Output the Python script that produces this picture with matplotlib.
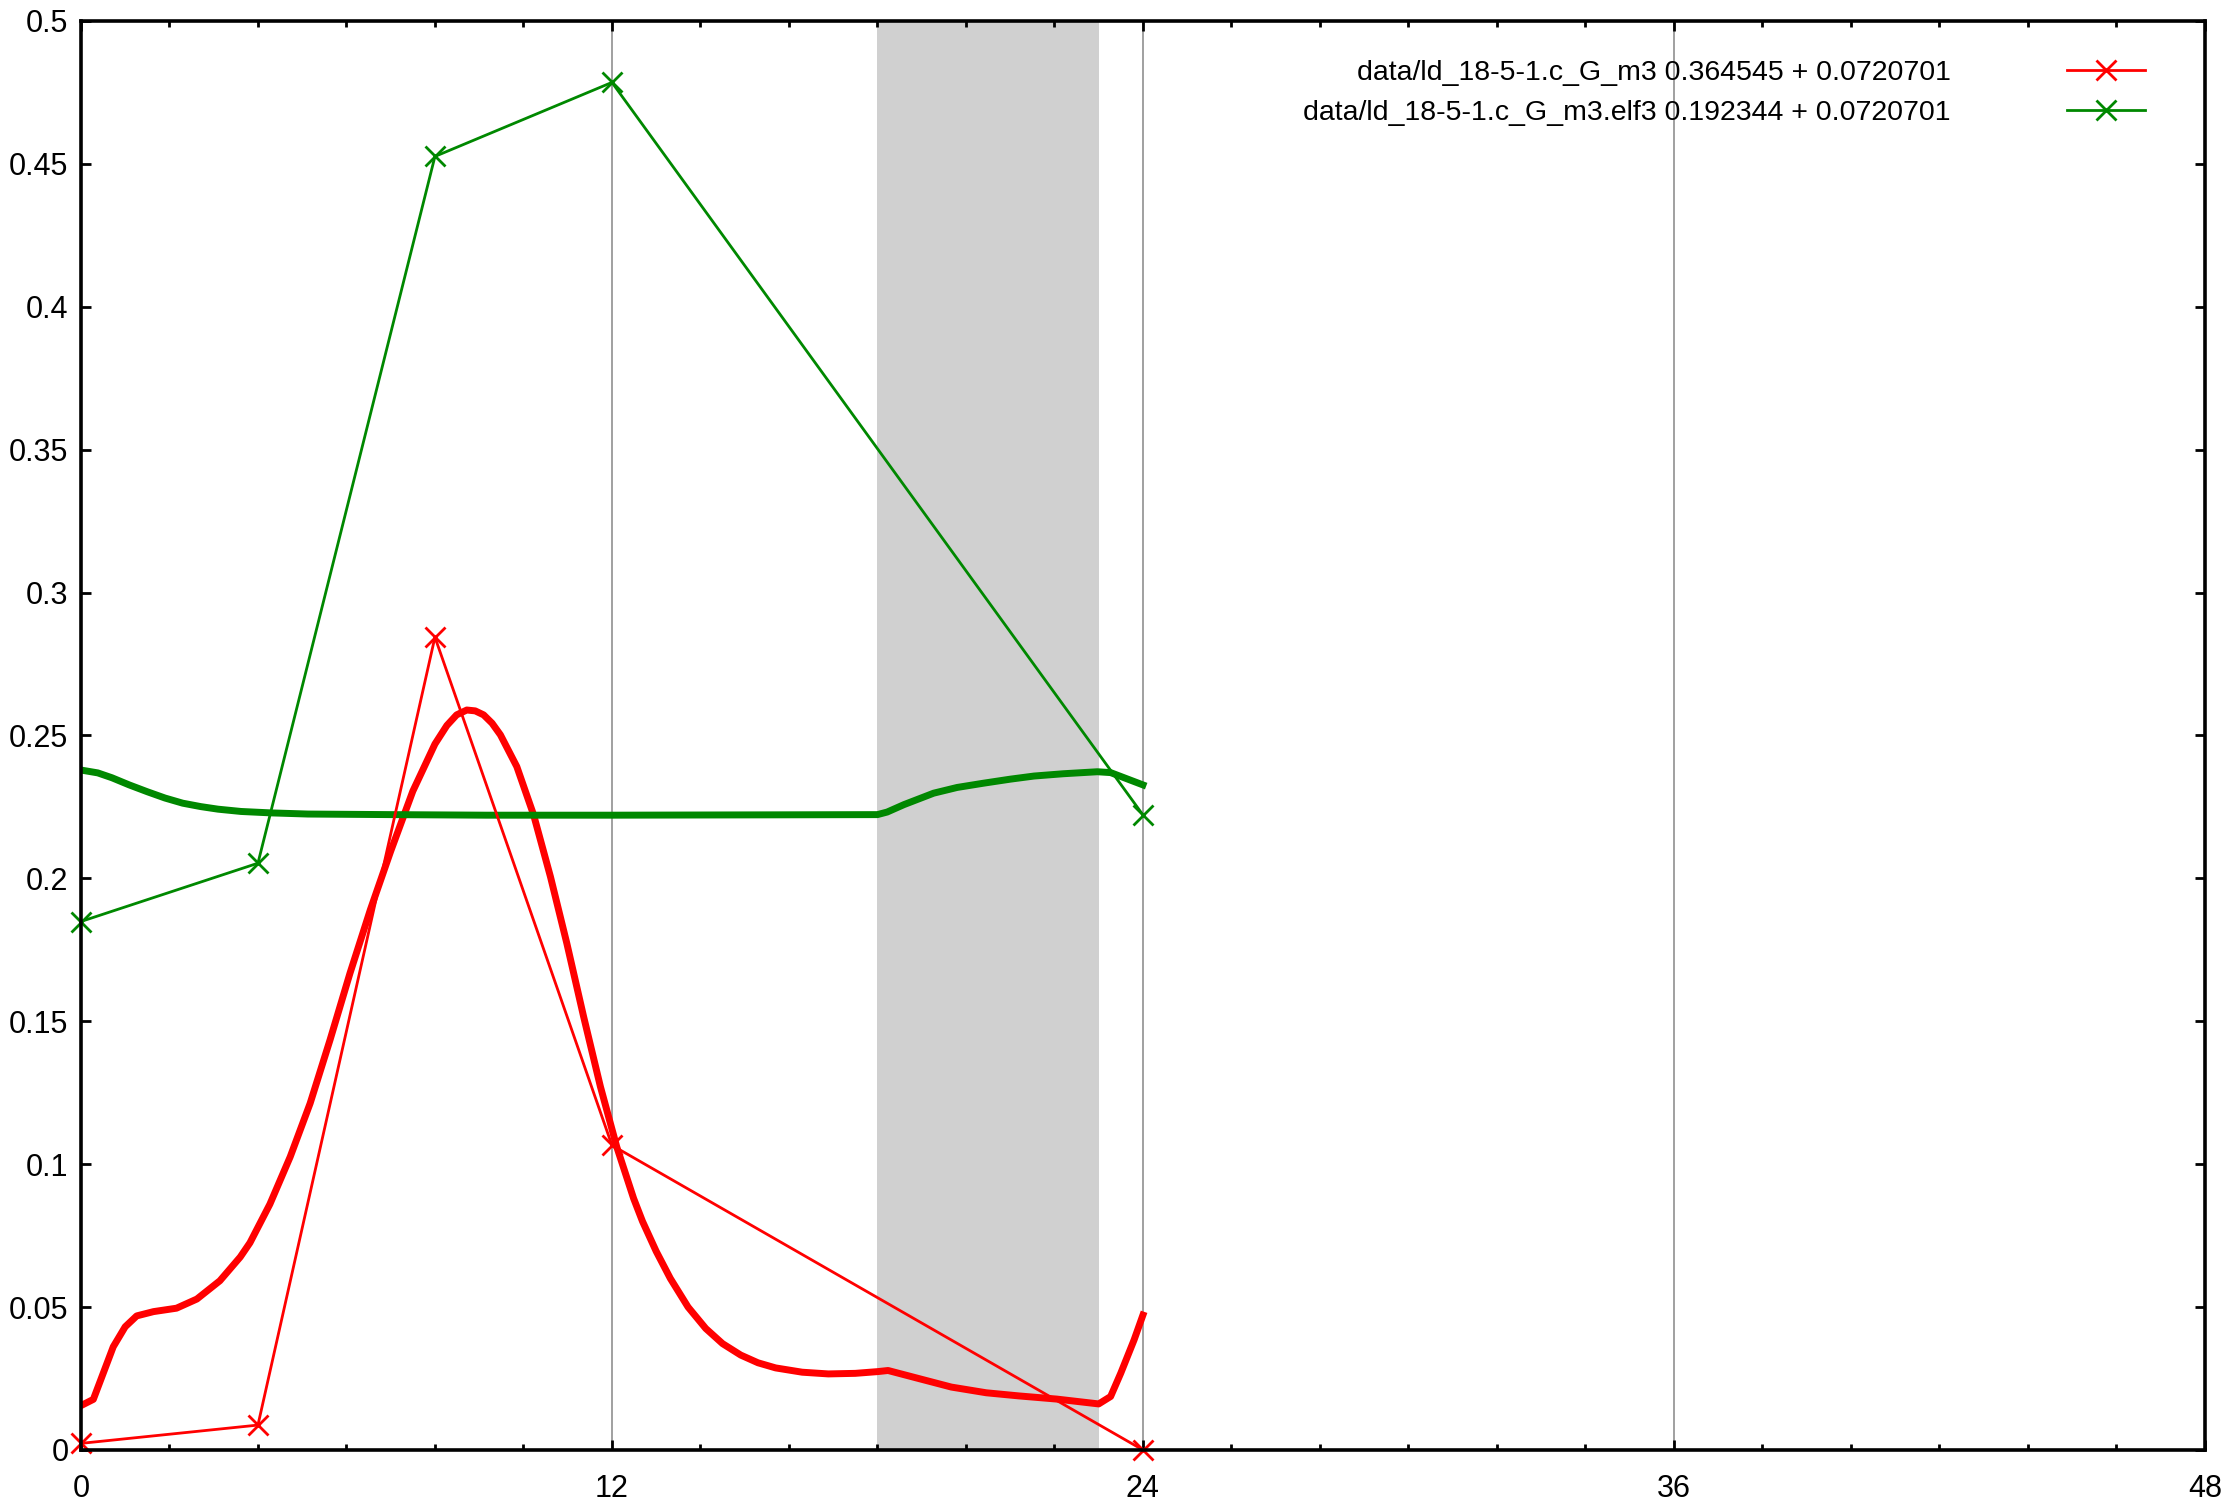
import numpy as np
import matplotlib
matplotlib.use("Agg")
import matplotlib.pyplot as plt
from matplotlib.ticker import MultipleLocator, FormatStrFormatter

plt.rcParams["font.family"] = ["Liberation Sans", "DejaVu Sans"]

# pomiary (godziny)
HOURS = [0, 4, 8, 12, 24]
M3 = [0.0023, 0.0087, 0.2844, 0.1066, 0.0]
ELF3 = [0.1849, 0.2053, 0.4526, 0.4785, 0.2222]

# dopasowane krzywe
M3_FIT_T = [0, 0.28, 0.73, 1.0, 1.26, 1.64, 2.16, 2.62, 3.14, 3.6, 3.82,
            4.27, 4.73, 5.18, 5.63, 6.08, 6.54, 7.0, 7.5, 8.0, 8.27, 8.49,
            8.72, 8.91, 9.1, 9.29, 9.48, 9.85, 10.23, 10.61, 10.98, 11.36,
            11.74, 12.11, 12.49, 12.69, 13.0, 13.32, 13.72, 14.12, 14.5, 14.91,
            15.3, 15.7, 16.3, 16.89, 17.5, 18.0, 18.24, 18.88, 19.67, 20.46,
            21.2, 22.05, 23.0, 23.27, 23.5, 23.8, 24.0]
M3_FIT = [0.0155, 0.0177, 0.0361, 0.0431, 0.0469, 0.0484, 0.0496, 0.0528,
          0.0592, 0.0675, 0.0725, 0.0860, 0.1026, 0.1213, 0.1435, 0.1668,
          0.189, 0.2095, 0.2305, 0.247, 0.2535, 0.2572, 0.2589, 0.2586,
          0.2572, 0.2543, 0.2502, 0.2391, 0.2222, 0.2006, 0.1773, 0.1516,
          0.1271, 0.106, 0.088, 0.080, 0.0695, 0.060, 0.050, 0.0425, 0.0372,
          0.0332, 0.0305, 0.0287, 0.0272, 0.0266, 0.0268, 0.0274, 0.0278,
          0.0252, 0.022, 0.020, 0.0189, 0.0178, 0.0161, 0.0187, 0.0269,
          0.0385, 0.0472]

ELF3_FIT_T = [0, 0.38, 0.7, 1.09, 1.5, 1.9, 2.3, 2.71, 3.1, 3.62, 4.3, 5.13,
              7.0, 9.16, 12.0, 15.0, 18.0, 18.22, 18.6, 19.27, 19.8, 20.4,
              21.0, 21.54, 22.2, 22.97, 23.27, 24.0]
ELF3_FIT = [0.2379, 0.2369, 0.2352, 0.2327, 0.2303, 0.2281, 0.2263, 0.2251,
            0.2242, 0.2234, 0.2229, 0.2225, 0.2223, 0.2221, 0.2221, 0.2222,
            0.2223, 0.2232, 0.2258, 0.2298, 0.2318, 0.2333, 0.2347, 0.2358,
            0.2366, 0.2373, 0.237, 0.2327]

LABELS = ["data/ld_18-5-1.c_G_m3 0.364545 + 0.0720701",
          "data/ld_18-5-1.c_G_m3.elf3 0.192344 + 0.0720701"]

NIGHT = (18, 23)
RED = "#ff0000"
GREEN = "#008800"


def main():
    fig = plt.figure(figsize=(22.36, 15.08), dpi=100)
    ax = fig.add_axes([0.0362, 0.0385, 0.9499, 0.9476])

    ax.axvspan(NIGHT[0], NIGHT[1], color="#d0d0d0", lw=0, zorder=0)
    for x in (12, 24, 36):
        ax.axvline(x, color="#a0a0a0", lw=1.4, zorder=1)

    ax.plot(M3_FIT_T, M3_FIT, color=RED, lw=5, zorder=3,
            solid_joinstyle="round")
    ax.plot(ELF3_FIT_T, ELF3_FIT, color=GREEN, lw=5, zorder=4,
            solid_joinstyle="round")
    ax.plot(HOURS, M3, color=RED, lw=2, marker="x", ms=14, mew=2,
            label=LABELS[0], zorder=5, clip_on=False)
    ax.plot(HOURS, ELF3, color=GREEN, lw=2, marker="x", ms=14, mew=2,
            label=LABELS[1], zorder=5, clip_on=False)

    ax.set_xlim(0, 48)
    ax.set_ylim(0, 0.5)
    ax.xaxis.set_major_locator(MultipleLocator(12))
    ax.xaxis.set_minor_locator(MultipleLocator(2))
    ax.yaxis.set_major_locator(MultipleLocator(0.05))
    ax.yaxis.set_major_formatter(FormatStrFormatter("%g"))

    for s in ax.spines.values():
        s.set_linewidth(2.6)
        s.set_zorder(6)
    ax.tick_params(which="both", direction="in", top=True, right=True,
                   width=2, labelsize=22, colors="black")
    ax.tick_params(which="major", length=7)
    ax.tick_params(which="minor", length=4)
    ax.tick_params(axis="x", pad=17)
    ax.tick_params(axis="y", pad=9)

    ax.legend(loc="upper right", bbox_to_anchor=(0.972, 0.973), frameon=False,
              markerfirst=False, fontsize=20.5, handlelength=2.74,
              handletextpad=4.1, labelspacing=0.5, borderaxespad=0,
              borderpad=0)

    fig.savefig("out.png", dpi=100)


if __name__ == "__main__":
    main()
